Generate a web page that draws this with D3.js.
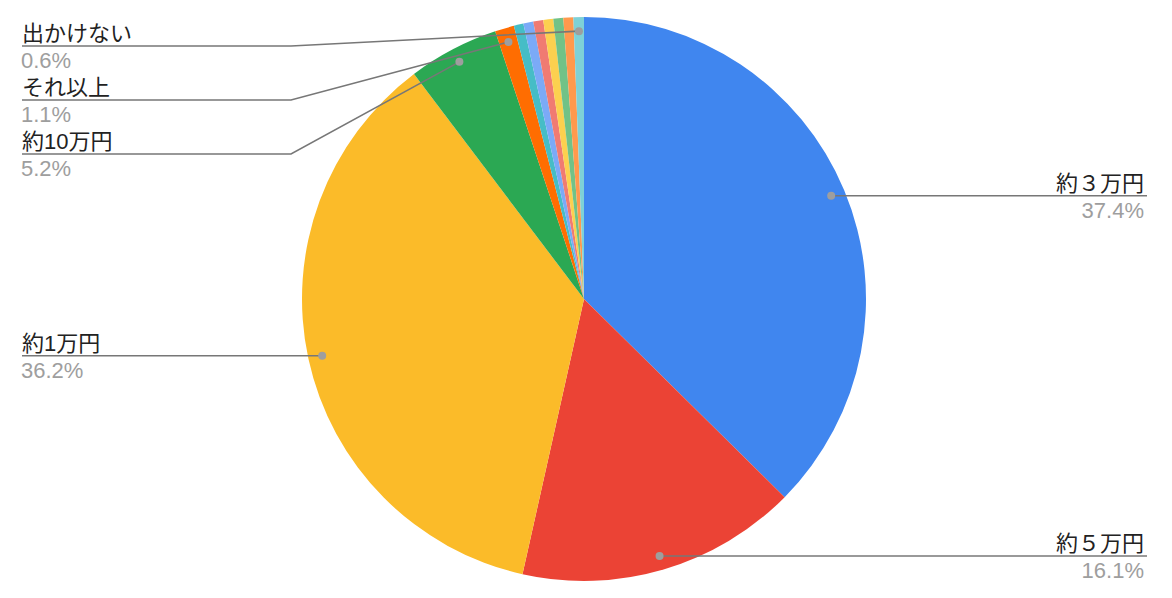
<!DOCTYPE html>
<html><head><meta charset="utf-8">
<script src="https://cdn.jsdelivr.net/npm/d3@7"></script>
<style>body{margin:0;background:#fff}svg{display:block}</style>
</head><body>
<script>
const categories = ["約３万円","約５万円","約1万円","約10万円","それ以上","その他A","その他B","その他C","その他D","その他E","その他F","出かけない"];
const values = [37.4,16.1,36.2,5.2,1.1,0.55,0.57,0.57,0.57,0.57,0.57,0.6];
const percentLabels = ["37.4%","16.1%","36.2%","5.2%","1.1%","","","","","","","0.6%"];
const labeled = [true,true,true,true,true,false,false,false,false,false,false,true];
const colors = ["#4086EF","#EB4335","#FBBB29","#2BA853","#FF6D01","#46BDC6","#7BAAF7","#F07B72","#FCD04F","#71C287","#FF994D","#7ED1D7"];

const W=1172,H=598, cx=584, cy=299, R=282;
const svg=d3.select("body").append("svg").attr("width",W).attr("height",H);
const data=categories.map((c,i)=>({name:c,value:values[i],pct:percentLabels[i],lab:labeled[i],color:colors[i]}));
const pie=d3.pie().sort(null).value(d=>d.value);
const arcs=pie(data);
const arc=d3.arc().innerRadius(0).outerRadius(R);
const g=svg.append("g").attr("transform",`translate(${cx},${cy})`);
g.selectAll("path").data(arcs).join("path").attr("d",arc).attr("fill",d=>d.data.color);

const font='"Liberation Sans","Noto Sans CJK JP",Arial,sans-serif';
const fs=22;
const dotR=R*0.95;
const items=arcs.filter(a=>a.data.lab).map(a=>{
  const m=(a.startAngle+a.endAngle)/2;
  return {a, x:cx+Math.sin(m)*dotR, y:cy-Math.cos(m)*dotR, left:Math.sin(m)<0};
});
const left=items.filter(d=>d.left).sort((p,q)=>p.y-q.y);
const right=items.filter(d=>!d.left).sort((p,q)=>p.y-q.y);
let prev=-1e9;
left.forEach(d=>{d.ly=Math.max(d.y,prev+54,46);prev=d.ly;});
prev=-1e9;
right.forEach(d=>{d.ly=Math.max(d.y,prev+54,46);prev=d.ly;});

const lineCol="#777";
left.forEach(d=>{
  const pts=[[22,d.ly],[291,d.ly],[d.x,d.y]];
  svg.append("polyline").attr("points",pts.map(p=>p.join(",")).join(" ")).attr("fill","none").attr("stroke",lineCol).attr("stroke-width",1.6);
  svg.append("circle").attr("cx",d.x).attr("cy",d.y).attr("r",4).attr("fill","#9e9e9e");
  svg.append("text").attr("x",22).attr("y",d.ly-5).attr("font-family",font).attr("font-size",fs).attr("fill","#222").text(d.a.data.name);
  svg.append("text").attr("x",21).attr("y",d.ly+22).attr("font-family",font).attr("font-size",fs).attr("fill","#9e9e9e").text(d.a.data.pct);
});
right.forEach(d=>{
  const pts=[[d.x,d.y],[873,d.ly],[1147,d.ly]];
  svg.append("polyline").attr("points",pts.map(p=>p.join(",")).join(" ")).attr("fill","none").attr("stroke",lineCol).attr("stroke-width",1.6);
  svg.append("circle").attr("cx",d.x).attr("cy",d.y).attr("r",4).attr("fill","#9e9e9e");
  svg.append("text").attr("x",1144).attr("y",d.ly-5).attr("text-anchor","end").attr("font-family",font).attr("font-size",fs).attr("fill","#222").text(d.a.data.name);
  svg.append("text").attr("x",1144).attr("y",d.ly+22).attr("text-anchor","end").attr("font-family",font).attr("font-size",fs).attr("fill","#9e9e9e").text(d.a.data.pct);
});
</script>
</body></html>
